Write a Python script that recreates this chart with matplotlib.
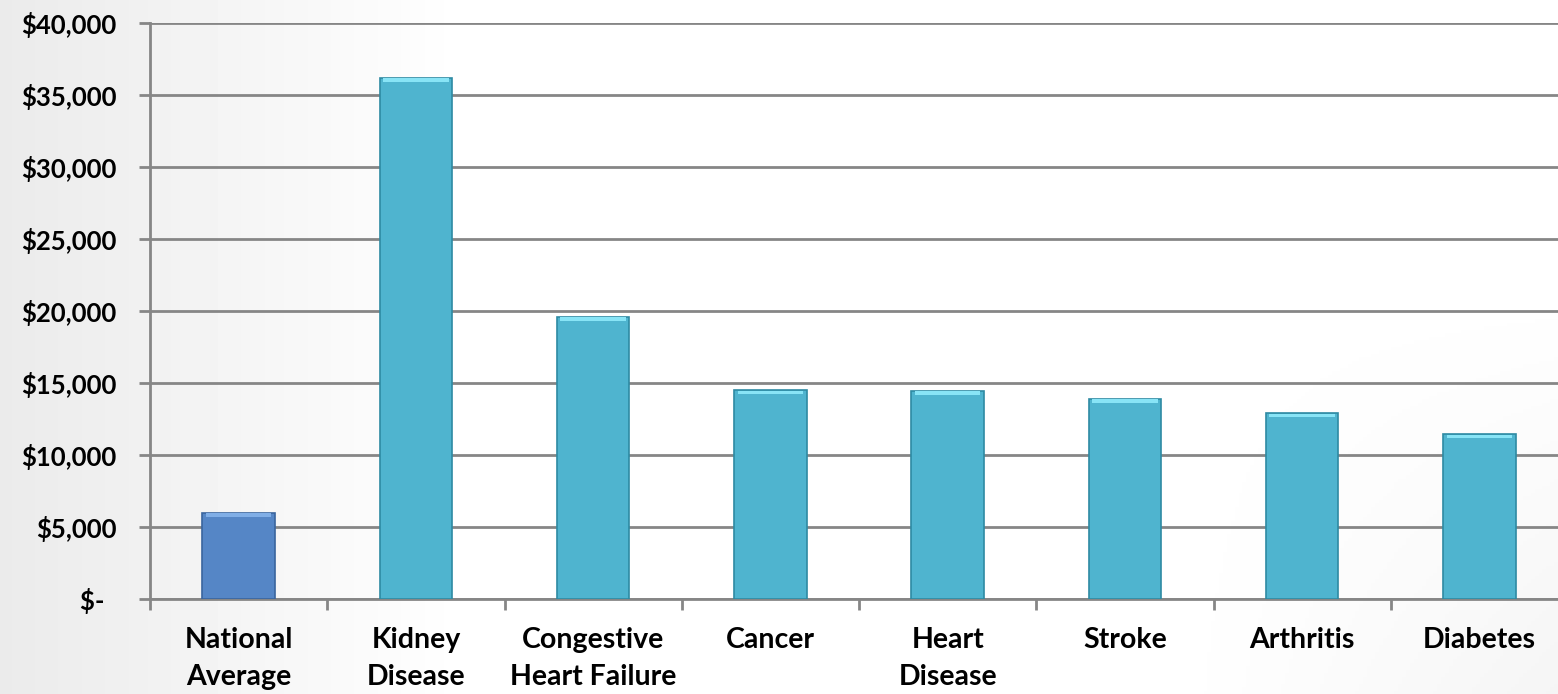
import numpy as np
import matplotlib.pyplot as plt
from matplotlib.ticker import FixedLocator

# average annual cost per patient, by condition
categories = ["National\nAverage", "Kidney\nDisease", "Congestive\nHeart Failure",
              "Cancer", "Heart\nDisease", "Stroke", "Arthritis", "Diabetes"]
costs = [6000, 36200, 19600, 14500, 14450, 13900, 12900, 11450]
yticks = [0, 5000, 10000, 15000, 20000, 25000, 30000, 35000, 40000]
ytick_labels = ["$-  ", "$5,000", "$10,000", "$15,000", "$20,000",
                "$25,000", "$30,000", "$35,000", "$40,000"]

plt.rcParams['font.family'] = ['Lato', 'DejaVu Sans']

fig = plt.figure(figsize=(15.58, 6.94), dpi=100)

# soft grey background fading to white
bg = fig.add_axes([0, 0, 1, 1], zorder=-10)
xx = np.linspace(0, 1, 400)
yy = np.linspace(0, 1, 200)
X, Y = np.meshgrid(xx, yy)
shade = np.clip(1 - X / 0.3, 0, 1) * 0.08 + np.clip((X - 0.75) / 0.25, 0, 1) * np.clip(1 - Y / 0.6, 0, 1) * 0.04
bg.imshow(1 - shade, cmap='gray', vmin=0, vmax=1, aspect='auto', extent=[0, 1, 0, 1], origin='lower')
bg.axis('off')

ax = fig.add_axes([150 / 1558, 95 / 694, 1418 / 1558, 576 / 694])
ax.patch.set_alpha(0)

x = np.arange(len(categories))
colors = ['#5586C6'] + ['#4FB4CF'] * (len(categories) - 1)
edges = ['#3A659E'] + ['#2E8AA3'] * (len(categories) - 1)
width = 0.41

ax.bar(x, costs, width=width, color=colors, edgecolor=edges, linewidth=1.2, zorder=3)
# bevel highlight along the top of each bar
hl = ['#80AEE6'] + ['#88E4F6'] * (len(categories) - 1)
ax.bar(x, [250] * len(costs), bottom=[c - 280 for c in costs], width=width * 0.9,
       color=hl, linewidth=0, zorder=4)

ax.set_xlim(-0.5, len(categories) - 0.5)
ax.set_ylim(0, 40000)
ax.yaxis.set_major_locator(FixedLocator(yticks))
ax.set_yticklabels(ytick_labels, fontsize=18.5, fontweight='bold')
ax.grid(axis='y', color='#868686', linewidth=2, zorder=0)

ax.set_xticks(x)
ax.set_xticklabels(categories, fontsize=20.5, fontweight='bold', linespacing=1.55)
ax.xaxis.set_minor_locator(FixedLocator(np.arange(len(categories) + 1) - 0.5))
ax.tick_params(axis='x', which='major', length=0, pad=20)
ax.tick_params(axis='x', which='minor', length=8, width=2, color='#868686')
ax.tick_params(axis='y', which='major', length=8, width=2, color='#868686', pad=16)

for side in ['top', 'right']:
    ax.spines[side].set_visible(False)
for side in ['left', 'bottom']:
    ax.spines[side].set_color('#868686')
    ax.spines[side].set_linewidth(2)

plt.savefig('out.png', dpi=100)
